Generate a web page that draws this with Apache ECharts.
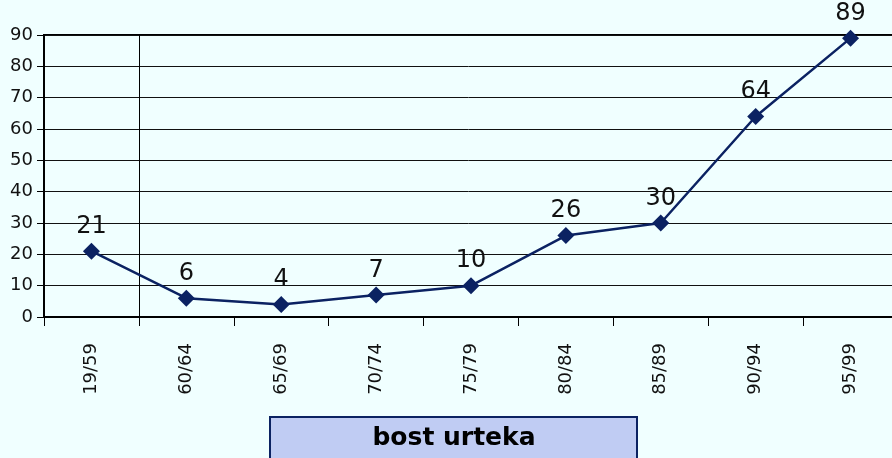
<!DOCTYPE html>
<html>
<head>
<meta charset="utf-8">
<script src="https://cdn.jsdelivr.net/npm/echarts@6/dist/echarts.min.js"></script>
<style>
  html, body { margin: 0; padding: 0; background: #F0FFFF; }
  #chart { width: 892px; height: 458px; }
</style>
</head>
<body>
<div id="chart"></div>
<script>
const categories = ['19/59', '60/64', '65/69', '70/74', '75/79', '80/84', '85/89', '90/94', '95/99'];
const values = [21, 6, 4, 7, 10, 26, 30, 64, 89];
const yTicks = { min: 0, max: 90, interval: 10 };
const valueAxisCrossesAfter = 1; // vertical axis crosses between 1st and 2nd category
const titleText = 'bost urteka';

const chart = echarts.init(document.getElementById('chart'), null, { renderer: 'canvas' });
const navy = '#0B2262';

chart.setOption({
  backgroundColor: '#F0FFFF',
  animation: false,
  grid: {
    left: 44, top: 35, width: 854, height: 282,
    outerBoundsMode: 'none',
    containLabel: false,
    show: true, borderColor: '#000', borderWidth: 2, backgroundColor: 'transparent'
  },
  graphic: [{
    type: 'rect',
    shape: { x: 270, y: 417, width: 367, height: 60 },
    style: { fill: '#C0CCF3', stroke: navy, lineWidth: 2 },
    z: 10
  }],
  title: {
    text: titleText,
    left: 454,
    top: 426,
    textAlign: 'center',
    padding: 0,
    z: 11,
    textStyle: { fontFamily: 'DejaVu Sans', fontWeight: 'bold', fontSize: 25, color: '#000' }
  },
  xAxis: [{
    type: 'category',
    data: categories,
    boundaryGap: true,
    axisLine: { show: true, lineStyle: { color: '#000', width: 2 } },
    axisTick: { show: true, alignWithLabel: false, length: 9, lineStyle: { color: '#000', width: 1 } },
    axisLabel: {
      rotate: 90, margin: 26, interval: 0,
      fontFamily: 'DejaVu Sans', fontSize: 18, color: '#111'
    },
    splitLine: { show: false }
  }, {
    type: 'value',
    min: 0, max: categories.length,
    show: false,
    position: 'bottom'
  }],
  yAxis: {
    type: 'value',
    min: yTicks.min, max: yTicks.max, interval: yTicks.interval,
    axisLine: { show: true, lineStyle: { color: '#000', width: 2 } },
    axisTick: { show: true, length: 7, lineStyle: { color: '#000', width: 1 } },
    axisLabel: { margin: 11, fontFamily: 'DejaVu Sans', fontSize: 18, color: '#111' },
    splitLine: { show: true, lineStyle: { color: '#111', width: 1 } }
  },
  series: [{
    type: 'line',
    data: values,
    symbol: 'diamond',
    symbolSize: 17,
    itemStyle: { color: navy },
    lineStyle: { color: navy, width: 2.5 },
    label: {
      show: true, position: 'top', distance: 4,
      fontFamily: 'DejaVu Sans', fontSize: 24, color: '#111'
    },
    z: 5
  }, {
    type: 'scatter',
    xAxisIndex: 1,
    data: [],
    silent: true,
    markLine: {
      silent: true,
      symbol: 'none',
      label: { show: false },
      lineStyle: { color: '#000', width: 1, type: 'solid' },
      data: [{ xAxis: valueAxisCrossesAfter }]
    }
  }]
});
</script>
</body>
</html>
